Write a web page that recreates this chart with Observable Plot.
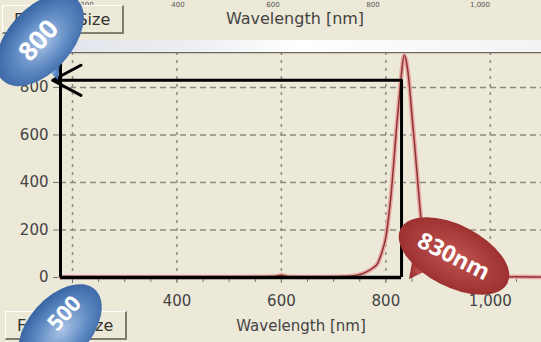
<!DOCTYPE html>
<html>
<head>
<meta charset="utf-8">
<script src="https://cdn.jsdelivr.net/npm/d3@7"></script>
<script src="https://cdn.jsdelivr.net/npm/@observablehq/plot@0.6"></script>
<style>
  html, body { margin: 0; padding: 0; background: #ece9d8; }
  #wrap { position: relative; width: 541px; height: 342px; overflow: hidden; background: #ece9d8; font-family: "DejaVu Sans", sans-serif; }
  #chart { position: absolute; left: 0; top: 0; }
  .btn { position: absolute; width: 122px; height: 29px; box-sizing: border-box; border: 1px solid #fff; border-right: 2px solid #7f7d72; border-bottom: 2px solid #7f7d72; background: #ece9d8; color: #333; font-size: 16px; line-height: 27px; padding-left: 11px; word-spacing: 31px; }
  .title { position: absolute; width: 220px; text-align: center; font-size: 16px; color: #444; }
  .toptick { position: absolute; top: 1px; font-size: 7px; line-height: 8px; color: #555; width: 40px; text-align: center; }
  #strip { position: absolute; left: 0; top: 40px; width: 541px; height: 12px; background: linear-gradient(90deg, #dfe1ea 0%, #eceef2 35%, #ffffff 55%, #f3f3f6 100%); }
  #overlay { position: absolute; left: 0; top: 0; pointer-events: none; }
</style>
</head>
<body>
<div id="wrap">
  <div id="chart"></div>
  <div id="strip"></div>
  <div class="toptick" style="left:67px">200</div>
  <div class="toptick" style="left:158px">400</div>
  <div class="toptick" style="left:253px">600</div>
  <div class="toptick" style="left:353px">800</div>
  <div class="toptick" style="left:460px">1,000</div>
  <div class="btn" style="left:2px; top:5px;">Full Size</div>
  <div class="title" style="left:185px; top:9px;">Wavelength [nm]</div>
  <div class="btn" style="left:5px; top:311px;">Full Size</div>
  <svg id="overlay" width="541" height="342"></svg>
</div>
<script>
// Spectrum
const wavelengths = [177, 250, 300, 400, 500, 560, 585, 595, 600, 605, 615, 650, 700, 720, 735, 745, 755, 765, 775, 785, 790, 795, 800, 805, 810, 815, 820, 825, 830, 835, 840, 845, 850, 855, 860, 865, 870, 875, 880, 890, 900, 950, 1000, 1050, 1098];
const intensities = [2, 2, 2, 2, 2, 3, 4, 8, 10, 7, 3, 2, 3, 4, 6, 10, 16, 26, 40, 62, 90, 125, 170, 250, 350, 480, 620, 740, 860, 935, 900, 810, 680, 560, 430, 300, 180, 80, 30, 8, 3, 2, 2, 3, 2];

// Axes
const xTicks = [200, 400, 600, 800, 1000];
const xMinorTicks = [200, 250, 300, 350, 400, 450, 500, 550, 600, 650, 700, 750, 800, 850, 900, 950, 1000, 1050];
const yTicks = [0, 200, 400, 600, 800];
const xDomain = [177, 1098];
const yDomain = [0, 947];

// Annotation (peak marker)
const peakWavelength = [830];
const peakLevel = [830];
const calloutTexts = ["800", "500", "830nm"];

const data = wavelengths.map((w, i) => ({w, v: intensities[i]}));

const chart = Plot.plot({
  width: 541,
  height: 342,
  marginTop: 52,
  marginBottom: 65,
  marginLeft: 60,
  marginRight: 0,
  style: {background: "#ece9d8", color: "#444", fontFamily: "DejaVu Sans, sans-serif", fontSize: "15px"},
  x: {domain: xDomain},
  y: {domain: yDomain},
  marks: [
    Plot.ruleY(yTicks.filter(d => d > 0), {stroke: "#8a8a82", strokeWidth: 1.5, strokeDasharray: "6,4"}),
    Plot.ruleX(xTicks, {stroke: "#8a8a82", strokeWidth: 1.5, strokeDasharray: "3,5"}),
    Plot.ruleY([yDomain[1]], {stroke: "#6a685e", strokeWidth: 1.5}),
    Plot.axisX(xMinorTicks, {tickSize: 5, text: null, stroke: "#777", label: null}),
    Plot.axisX(xTicks, {tickSize: 6, tickPadding: 12, tickFormat: d3.format(","), fontSize: 15, stroke: "#777",
      label: "Wavelength [nm]", labelAnchor: "center", labelArrow: "none", labelOffset: 53}),
    Plot.axisY(yTicks, {tickSize: 7, tickPadding: 5, fontSize: 15, stroke: "#777", label: null}),
    Plot.line(data, {x: "w", y: "v", stroke: "#eaa9a6", strokeWidth: 4.5, curve: "monotone-x"}),
    Plot.line(data, {x: "w", y: "v", stroke: "#8a3434", strokeWidth: 1.5, curve: "monotone-x"}),
    Plot.ruleY([0], {x1: xDomain[0], x2: peakWavelength[0], stroke: "#000", strokeWidth: 3.5}),
    Plot.ruleX([xDomain[0]], {y1: 0, y2: 926, stroke: "#000", strokeWidth: 3}),
    Plot.ruleX(peakWavelength, {y1: 0, y2: peakLevel[0], stroke: "#000", strokeWidth: 3}),
    Plot.arrow([{x1: peakWavelength[0], y1: peakLevel[0], x2: 162, y2: peakLevel[0]}],
      {x1: "x1", y1: "y1", x2: "x2", y2: "y2", stroke: "#000", strokeWidth: 3, headLength: 16, headAngle: 56})
  ]
});
document.getElementById("chart").appendChild(chart);

// Callout bubbles
const ov = d3.select("#overlay");
const defs = ov.append("defs");
const gb = defs.append("radialGradient").attr("id", "gBlue").attr("cx", "50%").attr("cy", "55%").attr("r", "60%");
gb.append("stop").attr("offset", "0%").attr("stop-color", "#a9c3e6");
gb.append("stop").attr("offset", "55%").attr("stop-color", "#5a86c0");
gb.append("stop").attr("offset", "100%").attr("stop-color", "#2f5d9c");
const gr = defs.append("radialGradient").attr("id", "gRed").attr("cx", "50%").attr("cy", "50%").attr("r", "60%");
gr.append("stop").attr("offset", "0%").attr("stop-color", "#c25552");
gr.append("stop").attr("offset", "100%").attr("stop-color", "#952a2a");

function bubble(cx, cy, rx, ry, angle, fill, tail, text, fs, tx, ty) {
  const g = ov.append("g");
  if (tail) g.append("path").attr("d", tail).attr("fill", fill);
  g.append("ellipse").attr("cx", cx).attr("cy", cy).attr("rx", rx).attr("ry", ry)
    .attr("transform", `rotate(${angle},${cx},${cy})`).attr("fill", fill);
  g.append("text").attr("x", tx).attr("y", ty).attr("text-anchor", "middle").attr("dy", "0.36em")
    .attr("transform", `rotate(${angle},${tx},${ty})`)
    .attr("fill", "#fff").attr("font-weight", "bold").attr("font-size", fs)
    .attr("font-family", "Open Sans, DejaVu Sans, sans-serif").text(text);
}
bubble(40, 40, 55, 32, -48, "url(#gBlue)", "M40,62 L58,80 L60,62 Z", calloutTexts[0], 26, 38, 40);
bubble(60, 328, 52, 31, -48, "url(#gBlue)", null, calloutTexts[1], 22, 64, 313);
bubble(454, 256, 60, 31, 27, "url(#gRed)", "M412,262 L409,279 L432,268 Z", calloutTexts[2], 23, 454, 256);
</script>
</body>
</html>
